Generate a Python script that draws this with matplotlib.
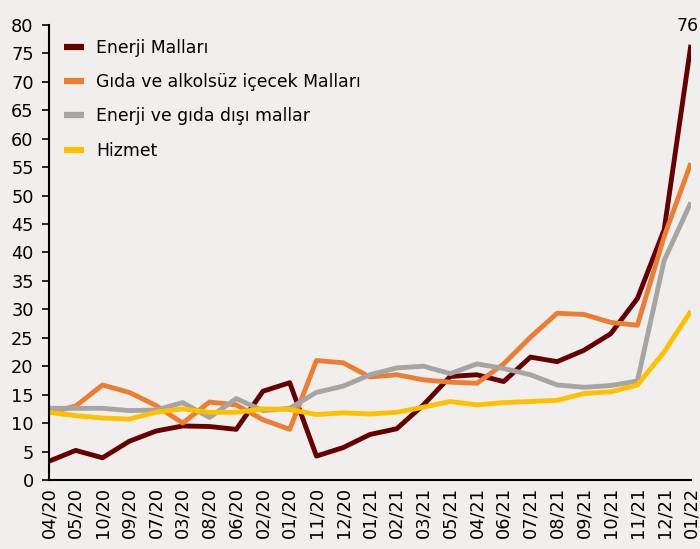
import matplotlib
matplotlib.use("Agg")
import matplotlib.pyplot as plt

# category labels (kept in the order shown in the source chart)
months = ["04/20", "05/20", "10/20", "09/20", "07/20", "03/20", "08/20", "06/20",
          "02/20", "01/20", "11/20", "12/20", "01/21", "02/21", "03/21", "05/21",
          "04/21", "06/21", "07/21", "08/21", "09/21", "10/21", "11/21", "12/21",
          "01/22"]

enerji = [3.3, 5.2, 3.9, 6.8, 8.6, 9.5, 9.4, 8.9, 15.6, 17.1, 4.2, 5.7, 8.0,
          9.0, 13.2, 18.2, 18.5, 17.3, 21.6, 20.8, 22.8, 25.7, 31.9, 44.0, 76.5]
gida = [11.8, 13.0, 16.7, 15.4, 13.1, 10.0, 13.7, 13.2, 10.6, 8.9, 21.0, 20.6,
        18.1, 18.5, 17.6, 17.2, 17.0, 20.4, 25.1, 29.3, 29.1, 27.7, 27.2, 42.8,
        55.7]
diger = [12.6, 12.6, 12.6, 12.2, 12.3, 13.6, 11.0, 14.3, 12.2, 12.6, 15.4,
         16.5, 18.5, 19.7, 20.0, 18.7, 20.4, 19.6, 18.5, 16.7, 16.3, 16.6, 17.4,
         38.6, 48.8]
hizmet = [11.9, 11.3, 10.9, 10.7, 11.9, 12.5, 11.9, 11.9, 12.5, 12.4, 11.5,
          11.8, 11.6, 11.9, 12.8, 13.8, 13.2, 13.6, 13.8, 14.0, 15.2, 15.5, 16.7,
          22.5, 29.7]

series = [
    ("Enerji Malları", enerji, "#660000"),
    ("Gıda ve alkolsüz içecek Malları", gida, "#ED7D31"),
    ("Enerji ve gıda dışı mallar", diger, "#A5A5A5"),
    ("Hizmet", hizmet, "#FFC000"),
]

bg = "#F1EFEE"
plt.rcParams["font.family"] = "DejaVu Sans"

fig = plt.figure(figsize=(7, 5.49), dpi=100, facecolor=bg)
ax = fig.add_axes([0.07, 0.1257, 0.917, 0.829], facecolor=bg)

x = list(range(len(months)))
for name, vals, color in series:
    ax.plot(x, vals, color=color, lw=3.5, label=name, solid_capstyle="butt")

# value label on the last point, nudged left so it stays inside the figure
ax.annotate(f"{int(enerji[-1])}", (x[-1], enerji[-1]), xytext=(-2, 7),
            textcoords="offset points", ha="center", va="bottom", fontsize=12.5,
            annotation_clip=False)

ax.set_xlim(0, len(months) - 1)
ax.set_ylim(0, 80)
ax.set_yticks(range(0, 81, 5))
ax.set_xticks(x)
ax.set_xticklabels(months, rotation=90)
ax.tick_params(axis="y", labelsize=12.8, length=5, width=1.2, pad=6)
ax.tick_params(axis="x", labelsize=12.8, length=0, pad=5)

for side in ("top", "right"):
    ax.spines[side].set_visible(False)
for side in ("left", "bottom"):
    ax.spines[side].set_linewidth(1.5)

leg = ax.legend(loc="upper left", frameon=False, fontsize=12.4, handlelength=1.2,
                handletextpad=0.7, borderaxespad=0, bbox_to_anchor=(0.012, 0.985),
                labelspacing=0.95)
for line in leg.get_lines():
    line.set_linewidth(4.5)

fig.savefig("out.png", dpi=100, facecolor=bg)
